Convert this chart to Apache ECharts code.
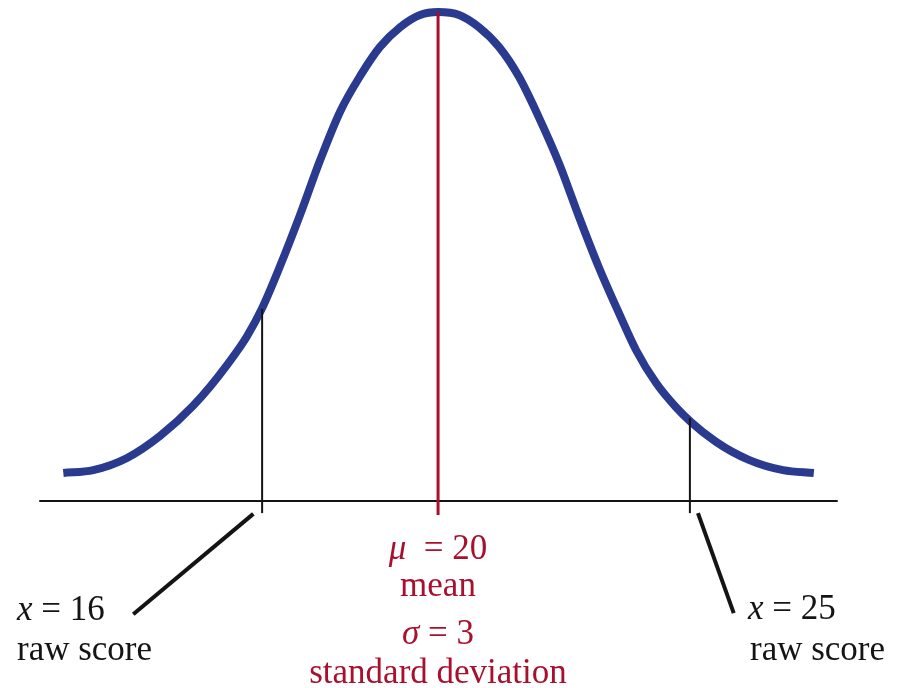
<!DOCTYPE html>
<html>
<head>
<meta charset="utf-8">
<title>Normal distribution: mean 20, standard deviation 3</title>
<script src="https://cdn.jsdelivr.net/npm/echarts@6/dist/echarts.min.js"></script>
<style>
  html, body { margin: 0; padding: 0; background: #ffffff; }
  #chart { width: 897px; height: 688px; }
</style>
</head>
<body>
<div id="chart"></div>
<script>
// Distribution parameters
const mean = 20;
const stdDev = 3;
const rawScores = [16, 25];

// Bell curve, left half (raw score, density)
const leftScore   = [11.48, 12.16, 12.93, 13.68, 14.43, 15.20, 15.66, 16.00, 16.41, 16.86, 17.32, 17.77, 18.23, 18.68, 19.14, 19.59, 20.00];
const leftDensity = [0.0076, 0.0084, 0.0117, 0.0177, 0.0259, 0.0370, 0.0449, 0.0525, 0.0640, 0.0778, 0.0928, 0.1059, 0.1157, 0.1236, 0.1290, 0.1323, 0.1331];

// Bell curve, right half (raw score, density)
const rightScore   = [20.00, 20.42, 20.81, 21.21, 21.61, 22.00, 22.40, 22.80, 23.19, 23.59, 23.93, 24.33, 24.72, 25.02, 25.52, 26.17, 26.85, 27.46];
const rightDensity = [0.1331, 0.1323, 0.1290, 0.1236, 0.1154, 0.1045, 0.0920, 0.0773, 0.0637, 0.0512, 0.0411, 0.0321, 0.0256, 0.0215, 0.0161, 0.0112, 0.0084, 0.0076];

// Height where each raw-score marker meets the curve, and how far markers drop below the axis
const markerTops = [0.0523, 0.0226];
const markerDrop = -0.0033;
const meanDrop = -0.0038;

// Leader lines from the raw-score markers to their captions
const leftLeader  = [[15.80, -0.0035], [13.07, -0.0308]];
const rightLeader = [[25.16, -0.0033], [25.87, -0.0305]];

const zip = (xs, ys) => xs.map((x, i) => [x, ys[i]]);

const BLUE = '#2a3a8e';
const RED = '#a8102e';
const INK = '#141414';
const SERIF = '"Liberation Serif", "DejaVu Serif", serif';

const chart = echarts.init(document.getElementById('chart'), null, { renderer: 'canvas' });

const seg = (name, xIdx, data, color, width, z) => ({
  name, type: 'line', xAxisIndex: xIdx, yAxisIndex: 0,
  data, showSymbol: false, symbol: 'none', clip: false, silent: true, z,
  lineStyle: { color, width, cap: 'butt' },
  animation: false
});

// Half of the bell drawn as one cubic Hermite path through its points
// (slopes from neighbouring points, flat at the summit).
function bellHalf(name, xIdx, xs, ys, summitIndex) {
  return {
    name, type: 'custom', xAxisIndex: xIdx, yAxisIndex: 0,
    data: zip(xs, ys), clip: false, silent: true, z: 2, animation: false,
    encode: { x: 0, y: 1 },
    renderItem(params, api) {
      if (params.dataIndex !== 0) return null;
      const p = xs.map((x, k) => api.coord([x, ys[k]]));
      const n = p.length;
      const slope = (k) => {
        if (k === summitIndex) return 0;
        if (k === 0) return (p[1][1] - p[0][1]) / (p[1][0] - p[0][0]);
        if (k === n - 1) return (p[n - 1][1] - p[n - 2][1]) / (p[n - 1][0] - p[n - 2][0]);
        const h0 = p[k][0] - p[k - 1][0], h1 = p[k + 1][0] - p[k][0];
        const s0 = (p[k][1] - p[k - 1][1]) / h0, s1 = (p[k + 1][1] - p[k][1]) / h1;
        return (s0 * h1 + s1 * h0) / (h0 + h1);
      };
      const m = p.map((_, k) => slope(k));
      let d = 'M' + p[0][0] + ' ' + p[0][1];
      for (let k = 0; k < n - 1; k++) {
        const h = p[k + 1][0] - p[k][0];
        d += ' C' + (p[k][0] + h / 3) + ' ' + (p[k][1] + m[k] * h / 3) + ' '
           + (p[k + 1][0] - h / 3) + ' ' + (p[k + 1][1] - m[k + 1] * h / 3) + ' '
           + p[k + 1][0] + ' ' + p[k + 1][1];
      }
      return {
        type: 'path',
        shape: { pathData: d },
        style: { stroke: BLUE, lineWidth: 8, fill: null, lineCap: 'butt', lineJoin: 'round' }
      };
    }
  };
}

const textEl = (x, y, align, rich, content) => ({
  type: 'text', x, y, silent: true,
  style: {
    text: content, align, verticalAlign: 'middle',
    fontFamily: SERIF, fontSize: 35, rich
  }
});

const makeRich = (color) => ({
  i: { fontFamily: SERIF, fontSize: 35, fontStyle: 'italic', fill: color, color },
  n: { fontFamily: SERIF, fontSize: 35, fill: color, color }
});
const blackRich = makeRich(INK);
const redRich = makeRich(RED);

chart.setOption({
  animation: false,
  backgroundColor: '#ffffff',
  grid: { left: 40, right: 60, top: 5, bottom: 187, containLabel: false },
  xAxis: [
    {
      // scale used left of the mean
      type: 'value', min: 10.95, max: 29.07,
      axisLine: { show: true, onZero: true, lineStyle: { color: INK, width: 2 } },
      axisTick: { show: false }, axisLabel: { show: false }, splitLine: { show: false }
    },
    {
      // scale used right of the mean
      type: 'value', min: 12.10, max: 27.92, show: false,
      splitLine: { show: false }
    }
  ],
  yAxis: {
    type: 'value', min: 0, max: 0.135, show: false, splitLine: { show: false }
  },
  series: [
    bellHalf('curve-left', 0, leftScore, leftDensity, leftScore.indexOf(mean)),
    bellHalf('curve-right', 1, rightScore, rightDensity, rightScore.indexOf(mean)),
    seg('mean', 0, [[mean, leftDensity[leftScore.indexOf(mean)]], [mean, meanDrop]], RED, 3, 3),
    seg('raw-16', 0, [[rawScores[0], markerTops[0]], [rawScores[0], markerDrop]], INK, 2, 4),
    seg('raw-25', 1, [[rawScores[1], markerTops[1]], [rawScores[1], markerDrop]], INK, 2, 4),
    seg('leader-16', 0, leftLeader, INK, 4, 4),
    seg('leader-25', 1, rightLeader, INK, 4, 4)
  ],
  graphic: [
    textEl(17, 611, 'left', blackRich, '{i|x}{n| = ' + rawScores[0] + '}'),
    textEl(17, 651, 'left', blackRich, '{n|raw score}'),
    textEl(748, 610, 'left', blackRich, '{i|x}{n| = ' + rawScores[1] + '}'),
    textEl(750, 651, 'left', blackRich, '{n|raw score}'),
    textEl(438, 550, 'center', redRich, '{i|\u03BC}{n|  = ' + mean + '}'),
    textEl(438, 587, 'center', redRich, '{n|mean}'),
    textEl(438, 635, 'center', redRich, '{i|\u03C3}{n| = ' + stdDev + '}'),
    textEl(438, 674, 'center', redRich, '{n|standard deviation}')
  ]
});
</script>
</body>
</html>
